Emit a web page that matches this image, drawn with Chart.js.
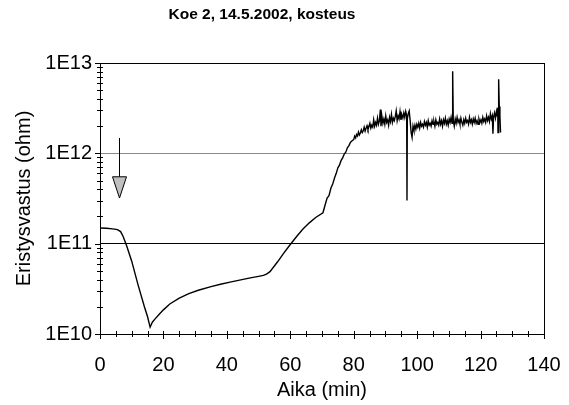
<!DOCTYPE html>
<html>
<head>
<meta charset="utf-8">
<script src="https://cdn.jsdelivr.net/npm/chart.js@4.4.1/dist/chart.umd.min.js"></script>
<style>
    body { margin: 0; background: #fff; }
    #wrap { position: relative; width: 569px; height: 405px; }
    #title {
        position: absolute; left: 0; top: 5px; width: 524px;
        text-align: center; font: bold 15.5px "Liberation Sans", Arial, sans-serif;
        line-height: 18px; color: #000;
    }
    canvas { position: absolute; left: 0; top: 0; }
</style>
</head>
<body>
<div id="wrap">
    <canvas id="chart" width="569" height="405"></canvas>
    <div id="title">Koe 2, 14.5.2002, kosteus</div>
</div>
<script>
// ==========================================
// Data
// ==========================================
// time in minutes
const timeMin = [
    0, 2, 4, 5.5, 6.5, 7.3, 8.4, 10, 12, 14, 15, 15.8, 16.5, 17.3, 18.9, 20, 22, 25, 28, 31,
    35, 38, 41, 44, 47, 50, 51.5, 52.5, 53.6, 56, 58, 60, 62, 64, 66, 68, 70.3,
    71, 71.6, 72.2, 72.8, 73.4, 74, 74.5, 75, 75.5, 76, 76.5, 77, 77.5, 78, 78.5, 79, 79.5,
    80.0, 80.3, 80.6, 80.9, 81.2, 81.5, 81.8, 82.1, 82.4, 82.7, 83.0, 83.3, 83.6, 83.9, 84.2,
    84.5, 84.8, 85.1, 85.4, 85.7, 86.0, 86.3, 86.6, 86.9, 87.2, 87.5, 87.8, 88.1, 88.4, 88.6,
    88.9, 89.2, 89.5, 89.8, 90.1, 90.4, 90.7, 91.0, 91.3, 91.6, 91.9, 92.2, 92.5, 92.8, 93.1,
    93.4, 93.7, 94.0, 94.3, 94.6, 94.9, 95.2, 95.5, 95.8, 96.1, 96.4, 96.7, 96.8, 96.9, 97.2,
    97.5, 97.8, 98.1, 98.4, 98.7, 99.0, 99.3, 99.6, 99.9, 100.2, 100.5, 100.8, 101.1, 101.4,
    101.7, 102.0, 102.3, 102.6, 102.9, 103.2, 103.5, 103.8, 104.1, 104.4, 104.7, 105.0, 105.3,
    105.6, 105.9, 106.2, 106.5, 106.8, 107.1, 107.4, 107.7, 108.0, 108.3, 108.6, 108.9, 109.2,
    109.5, 109.8, 110.1, 110.4, 110.7, 111.0, 111.2, 111.4, 111.7, 112.0, 112.3, 112.6, 112.9,
    113.2, 113.5, 113.8, 114.1, 114.4, 114.7, 115.0, 115.3, 115.6, 115.9, 116.2, 116.5, 116.8,
    117.1, 117.4, 117.7, 118.0, 118.3, 118.6, 118.9, 119.2, 119.5, 119.8, 120.1, 120.4, 120.7,
    121.0, 121.3, 121.6, 121.9, 122.2, 122.5, 122.8, 123.1, 123.4, 123.7, 123.9, 124.1, 124.4,
    124.7, 125.0, 125.2, 125.4, 125.5, 125.7, 125.9, 126.1, 126.3
];
// insulation resistance in ohm
const resistance = [
    1.49e11, 1.48e11, 1.46e11, 1.43e11, 1.36e11, 1.2e11, 9.5e10, 6.4e10, 3.5e10, 2.0e10, 1.55e10,
    1.19e10, 1.35e10, 1.46e10, 1.69e10, 1.85e10, 2.15e10, 2.5e10, 2.8e10, 3.05e10,
    3.35e10, 3.55e10, 3.75e10, 3.95e10, 4.15e10, 4.35e10, 4.45e10, 4.6e10, 4.9e10, 6.3e10, 7.9e10,
    9.8e10, 1.2e11, 1.45e11, 1.7e11, 1.95e11, 2.2e11,
    2.7e11, 3.2e11, 3.4e11, 4.1e11, 4.6e11, 5.4e11, 6.0e11, 6.9e11, 7.4e11, 8.3e11, 8.9e11,
    9.8e11, 1.03e12, 1.15e12, 1.22e12, 1.33e12, 1.38e12,
    1.42e12, 1.55e12, 1.48e12, 1.62e12, 1.56e12, 1.72e12, 1.6e12, 1.68e12, 1.82e12, 1.7e12,
    1.78e12, 1.95e12, 1.76e12, 1.9e12, 2.02e12,
    1.84e12, 1.98e12, 2.15e12, 1.9e12, 2.05e12, 1.95e12, 2.35e12, 2.0e12, 2.2e12, 2.05e12,
    2.45e12, 2.1e12, 2.3e12, 3.05e12, 2.0e12,
    2.55e12, 2.15e12, 2.4e12, 2.1e12, 2.6e12, 2.2e12, 2.35e12, 2.05e12, 2.5e12, 2.25e12,
    2.7e12, 2.2e12, 2.45e12, 2.3e12, 2.55e12,
    2.95e12, 2.3e12, 2.6e12, 2.4e12, 2.9e12, 2.35e12, 2.65e12, 2.45e12, 2.8e12, 2.5e12,
    2.9e12, 2.6e12, 3.0e11, 2.4e12, 2.75e12,
    2.95e12, 2.3e12, 1.7e12, 1.5e12, 2.0e12, 1.8e12, 2.05e12, 1.85e12, 2.1e12, 1.95e12,
    2.15e12, 1.9e12, 2.2e12, 2.0e12,
    2.1e12, 1.95e12, 2.25e12, 2.05e12, 2.2e12, 1.95e12, 2.3e12, 2.05e12, 2.15e12, 2.0e12,
    2.3e12, 2.1e12, 2.25e12,
    2.0e12, 2.35e12, 2.1e12, 2.2e12, 2.05e12, 2.4e12, 2.1e12, 2.3e12, 2.0e12, 2.35e12,
    2.15e12, 2.45e12, 2.1e12,
    2.3e12, 2.05e12, 2.4e12, 2.2e12, 2.5e12, 2.15e12, 8.1e12, 2.3e12, 2.0e12, 2.4e12,
    2.15e12, 2.5e12, 2.2e12,
    2.35e12, 2.1e12, 2.45e12, 2.2e12, 2.05e12, 2.35e12, 2.15e12, 2.45e12, 2.2e12, 2.3e12,
    2.1e12, 2.5e12, 2.2e12,
    2.35e12, 2.1e12, 2.4e12, 2.2e12, 2.45e12, 2.15e12, 2.3e12, 2.1e12, 2.4e12, 2.2e12,
    2.35e12, 2.15e12, 2.5e12,
    2.25e12, 2.4e12, 2.2e12, 2.6e12, 2.3e12, 2.5e12, 2.25e12, 2.75e12, 2.4e12, 2.6e12,
    1.65e12, 2.5e12, 2.8e12,
    2.45e12, 2.9e12, 2.6e12, 3.2e12, 1.7e12, 6.6e12, 3.3e12, 2.6e12, 1.7e12
];

// arrow marker (time, resistance of shaft top, head base, tip)
const arrowTime = 6;
const arrowShaftTop = 1.48e12;
const arrowHeadBase = 5.5e11;
const arrowTip = 3.2e11;

// axes
const xTicks = [0, 20, 40, 60, 80, 100, 120, 140];
const xMinorStep = 5;
const yDecades = [1e10, 1e11, 1e12, 1e13];
const yTickLabels = ['1E10', '1E11', '1E12', '1E13'];

const FONT = '"Liberation Sans", Arial, sans-serif';

// ==========================================
// Tick marks that cross the axis lines
// ==========================================
const crossTicks = {
    id: 'crossTicks',
    afterDraw(chart) {
        const { ctx, scales: { x, y } } = chart;
        const x0 = x.left, y0 = y.bottom;
        ctx.save();
        ctx.strokeStyle = '#000';
        ctx.lineWidth = 1;
        ctx.beginPath();
        // y axis: log minor ticks
        for (let d = 0; d < yDecades.length - 1; d++) {
            for (let m = 2; m <= 9; m++) {
                const py = Math.round(y.getPixelForValue(m * yDecades[d])) + 0.5;
                ctx.moveTo(x0 - 3, py); ctx.lineTo(x0 + 3, py);
            }
        }
        yDecades.forEach(v => {
            const py = Math.round(y.getPixelForValue(v)) + 0.5;
            ctx.moveTo(x0 - 5, py); ctx.lineTo(x0, py);
        });
        // x axis
        for (let t = xTicks[0]; t <= xTicks[xTicks.length - 1]; t += xMinorStep) {
            const px = Math.round(x.getPixelForValue(t)) + 0.5;
            const major = xTicks.includes(t);
            ctx.moveTo(px, y0 - 3); ctx.lineTo(px, y0 + (major ? 5 : 3));
        }
        ctx.stroke();
        ctx.restore();
    }
};

// ==========================================
// Arrow annotation
// ==========================================
const arrowMark = {
    id: 'arrowMark',
    afterDatasetsDraw(chart) {
        const { ctx, scales: { x, y } } = chart;
        const px = Math.round(x.getPixelForValue(arrowTime)) + 0.5;
        const top = y.getPixelForValue(arrowShaftTop);
        const base = y.getPixelForValue(arrowHeadBase);
        const tip = y.getPixelForValue(arrowTip);
        ctx.save();
        ctx.strokeStyle = '#000';
        ctx.lineWidth = 1;
        ctx.beginPath();
        ctx.moveTo(px, top); ctx.lineTo(px, base);
        ctx.stroke();
        ctx.beginPath();
        ctx.moveTo(px - 7, base); ctx.lineTo(px + 7, base); ctx.lineTo(px, tip); ctx.closePath();
        ctx.fillStyle = '#c0c0c0';
        ctx.fill();
        ctx.stroke();
        ctx.restore();
    }
};

const points = timeMin.map((t, i) => ({ x: t, y: resistance[i] }));

new Chart(document.getElementById('chart'), {
    type: 'line',
    data: {
        datasets: [{
            data: points,
            borderColor: '#000',
            borderWidth: 1.4,
            pointRadius: 0,
            tension: 0,
            fill: false
        }]
    },
    options: {
        responsive: false,
        animation: false,
        layout: { padding: { left: 0, right: 25, top: 63, bottom: 2 } },
        plugins: { legend: { display: false }, tooltip: { enabled: false } },
        scales: {
            x: {
                type: 'linear',
                min: 0, max: 140,
                afterBuildTicks: scale => { scale.ticks = xTicks.map(v => ({ value: v })); },
                afterFit: scale => { scale.height = 69; },
                // label offset comes from an invisible tick length so the
                // right-hand padding is not widened by ticks.padding
                ticks: { color: '#000', padding: 8, maxRotation: 0, font: { family: FONT, size: 20 } },
                grid: {
                    drawTicks: true,
                    tickLength: 11,
                    tickColor: 'rgba(0,0,0,0)',
                    color: c => (c.tick && c.tick.value === 140) ? '#000' : 'rgba(0,0,0,0)'
                },
                border: { display: true, color: '#000', width: 1 },
                title: {
                    display: true, text: 'Aika (min)', color: '#000',
                    font: { family: FONT, size: 20 }, padding: { top: 0, bottom: 1 }
                }
            },
            y: {
                type: 'logarithmic',
                min: 1e10, max: 1e13,
                afterBuildTicks: scale => { scale.ticks = yDecades.map(v => ({ value: v })); },
                afterFit: scale => { scale.width = 100; },
                ticks: {
                    color: '#000', padding: 8, font: { family: FONT, size: 20 },
                    callback: (v) => {
                        const i = yDecades.indexOf(v);
                        return i >= 0 ? yTickLabels[i] : '';
                    }
                },
                grid: {
                    drawTicks: false,
                    color: c => {
                        if (!c.tick || c.tick.value <= 1e10) return 'rgba(0,0,0,0)';
                        return c.tick.value === 1e12 ? '#888' : '#000';
                    }
                },
                border: { display: true, color: '#000', width: 1 },
                title: {
                    display: true, text: 'Eristysvastus (ohm)', color: '#000',
                    font: { family: FONT, size: 20 }, padding: { top: 12, bottom: 0 }
                }
            }
        }
    },
    plugins: [crossTicks, arrowMark]
});
</script>
</body>
</html>
